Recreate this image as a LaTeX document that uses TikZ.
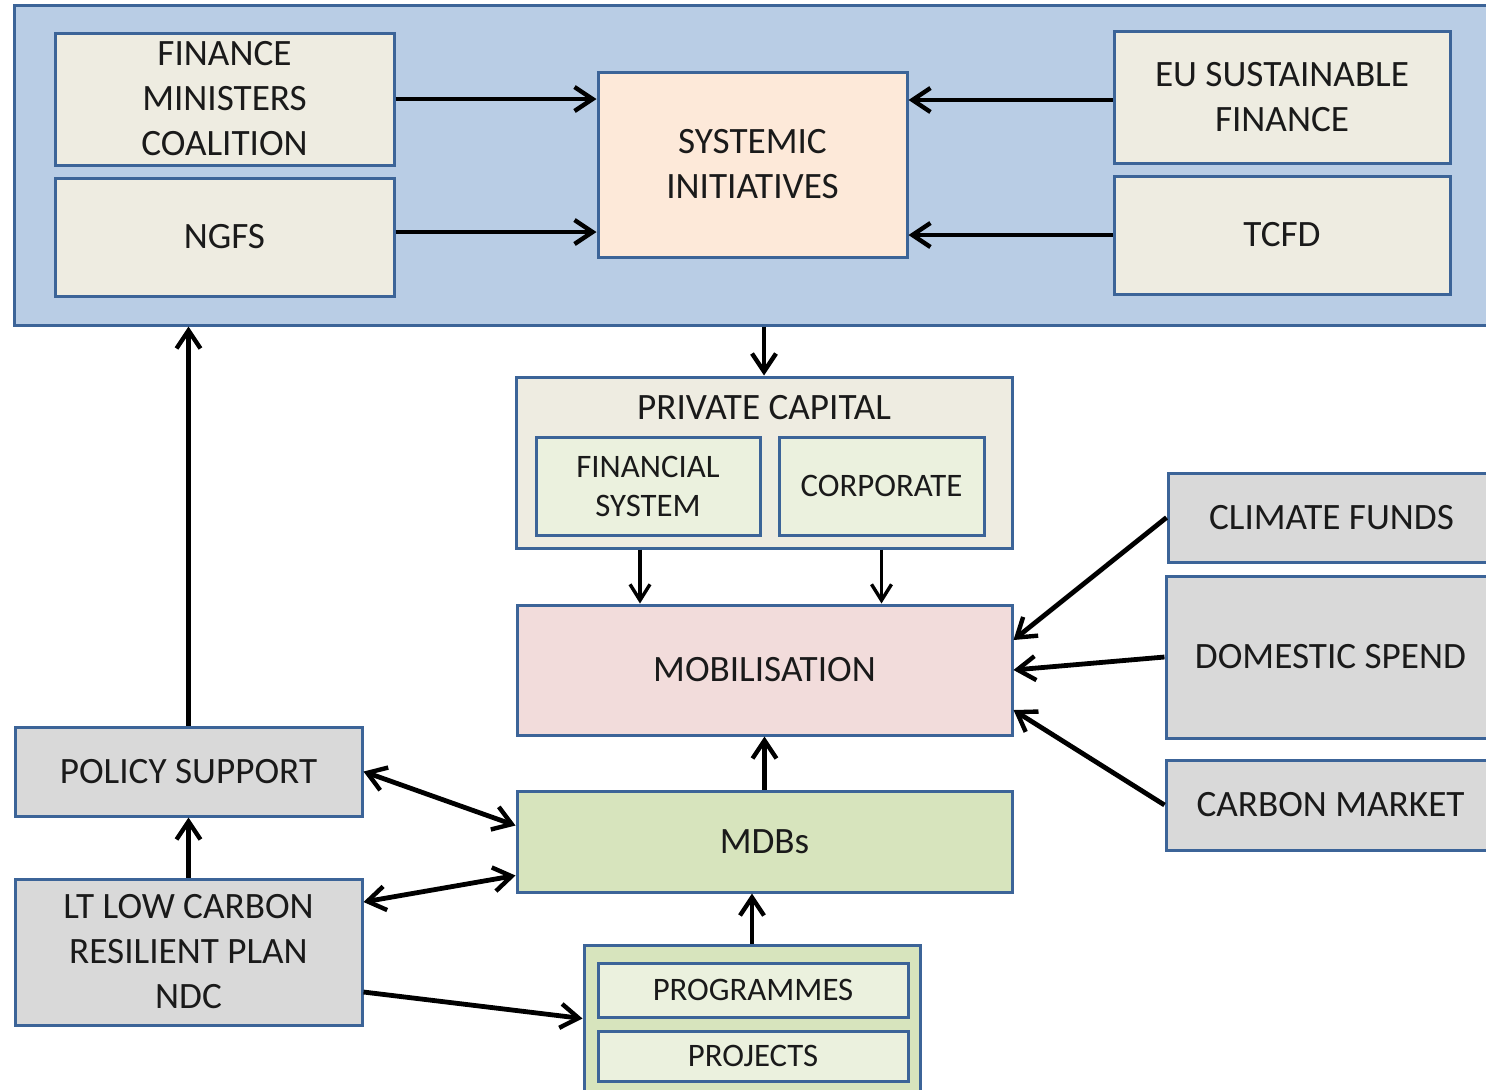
\documentclass[tikz,border=0pt]{standalone}
\usepackage{fontspec}
\setmainfont{Carlito}
\usepackage{tikz}
\usetikzlibrary{positioning}
\usetikzlibrary{arrows.meta}
\definecolor{boxblue}{HTML}{3C6498}
\definecolor{framefill}{HTML}{B9CDE5}
\definecolor{tanfill}{HTML}{EEECE1}
\definecolor{peachfill}{HTML}{FDE9D9}
\definecolor{pinkfill}{HTML}{F2DCDB}
\definecolor{greenfill}{HTML}{D7E4BD}
\definecolor{palegreen}{HTML}{EBF1DE}
\definecolor{grayfill}{HTML}{D9D9D9}
\definecolor{inktext}{HTML}{1A1A1A}
\tikzset{basic/.style={draw=boxblue,line width=1.5pt,inner sep=0pt,align=center,text=inktext,font=\fontsize{18.6}{22.5}\selectfont}}
\tikzset{boxsize/.style 2 args={minimum width=#1*0.5pt,minimum height=#2*0.5pt}}
\tikzset{initiative/.style={basic,fill=tanfill}}
\tikzset{source/.style={basic,fill=grayfill}}
\tikzset{inner/.style={basic,fill=palegreen,font=\fontsize{16.4}{19.5}\selectfont}}
\tikzset{flow/.style={line width=2.4pt,-{Straight Barb[length=9pt,width=12pt,line width=2.2pt]}}}
\tikzset{thinflow/.style={line width=1.7pt,-{Straight Barb[length=8pt,width=10pt,line width=1.7pt]}}}
\tikzset{twoway/.style={line width=2.4pt,{Straight Barb[length=9pt,width=12pt,line width=2.2pt]}-{Straight Barb[length=9pt,width=12pt,line width=2.2pt]}}}

\begin{document}
\begin{tikzpicture}[x=0.5pt,y=-0.5pt]
                \useasboundingbox (0,0) rectangle (1486,1089);
                % top frame with the initiatives
                \node[basic,fill=framefill,boxsize={1481}{320}] (frame) at (754.5,165) {};
                \node[initiative,boxsize={339}{132}] (fmc) at (224.5,99) {FINANCE\\MINISTERS\\COALITION};
                \node[initiative,boxsize={339}{118}] (ngfs) at (224.5,237) {NGFS};
                \node[basic,fill=peachfill,boxsize={309}{185}] (si) at (752.5,164.5) {SYSTEMIC\\INITIATIVES};
                \node[initiative,boxsize={336}{132}] (eu) at (1282,97) {EU SUSTAINABLE\\FINANCE};
                \node[initiative,boxsize={336}{118}] (tcfd) at (1282,235) {TCFD};
                    \draw[flow] (fmc.east) -- (si.west |- fmc.east);
                    \draw[flow] ([yshift=2.5pt]ngfs.east) -- ([yshift=2.5pt]si.west |- ngfs.east);
                    \draw[flow] ([yshift=-1.5pt]eu.west) -- ([yshift=-1.5pt]si.east |- eu.west);
                    \draw[flow] (tcfd.west) -- (si.east |- tcfd.west);
                % private capital
                \node[initiative,boxsize={496}{171}] (pc) at (764,462.5) {};
                \node[text=inktext,font=\fontsize{18.6}{22.5}\selectfont] (pclabel) at (764,408) {PRIVATE CAPITAL};
                \node[inner,boxsize={224}{98}] (fs) at (648,486) {FINANCIAL\\SYSTEM};
                \node[inner,boxsize={205}{98}] (corp) at (881.5,486) {CORPORATE};
                    \draw[flow] (frame.south -| pc.north) -- (pc.north);
                % mobilisation and its sources
                \node[basic,fill=pinkfill,boxsize={495}{130}] (mob) at (764.5,670) {MOBILISATION};
                    \draw[thinflow] ([xshift=-4pt]fs.south |- pc.south) -- ([xshift=-4pt]fs.south |- mob.north);
                    \draw[thinflow] (corp.south |- pc.south) -- (corp.south |- mob.north);
                \node[source,boxsize={327}{89}] (cf) at (1331.5,517.5) {CLIMATE FUNDS};
                \node[source,boxsize={329}{162}] (ds) at (1330.5,657) {DOMESTIC SPEND};
                \node[source,boxsize={329}{90}] (cm) at (1330.5,805) {CARBON MARKET};
                    \draw[flow] (cf.west) -- ([yshift=15pt]mob.east);
                    \draw[flow] (ds.west) -- (mob.east);
                    \draw[flow] (cm.west) -- ([yshift=-20pt]mob.east);
                % MDBs and country side
                \node[basic,fill=greenfill,boxsize={495}{101}] (mdb) at (764.5,841.5) {MDBs};
                    \draw[flow] (mdb.north) -- (mob.south);
                \node[source,boxsize={347}{89}] (policy) at (188.5,771.5) {POLICY SUPPORT};
                \node[source,boxsize={347}{146}] (lt) at (188.5,952) {LT LOW CARBON\\RESILIENT PLAN\\NDC};
                    \draw[flow] (policy.north) -- (policy.north |- frame.south);
                    \draw[flow] (lt.north) -- (policy.south);
                    \draw[twoway] (policy.east) -- ([yshift=8pt]mdb.west);
                    \draw[twoway] ([yshift=25pt]lt.east) -- ([yshift=-17pt]mdb.west);
                \node[basic,fill=greenfill,boxsize={336}{155}] (grp) at (752,1022.5) {};
                \node[inner,boxsize={310}{54}] (prog) at (753,990) {PROGRAMMES};
                \node[inner,boxsize={310}{50}] (proj) at (753,1056) {PROJECTS};
                    \draw[flow] ([yshift=-20pt]lt.east) -- ([yshift=2pt]grp.west);
                    \draw[flow] (grp.north) -- (grp.north |- mdb.south);
            \end{tikzpicture}
\end{document}
